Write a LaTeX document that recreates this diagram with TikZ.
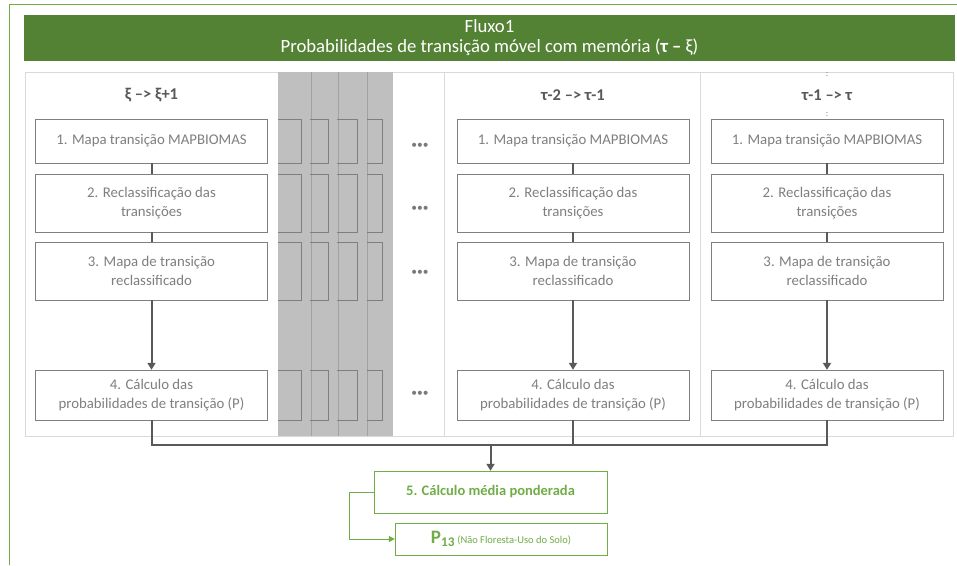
\documentclass[tikz,border=0pt]{standalone}
\usepackage{fontspec}
\setmainfont{Carlito}
\usetikzlibrary{arrows.meta}
\definecolor{verde}{HTML}{548235}
\definecolor{verdeclaro}{HTML}{70AD47}
\definecolor{cinza}{HTML}{7F7F7F}
\definecolor{cinzaescuro}{HTML}{595959}
\definecolor{faixa}{HTML}{BFBFBF}
\definecolor{borda}{HTML}{D9D9D9}

\tikzset{
	etapa/.style={draw=cinza, fill=white, text=cinza, align=center, minimum width=232pt, inner sep=0pt, font=\fontsize{14.8}{19}\selectfont},
	passo/.style={text=cinzaescuro, font=\fontsize{16.5}{19}\selectfont\bfseries},
	liga/.style={draw=cinzaescuro, line width=2pt},
	seta/.style={liga, -{Triangle[width=8pt,length=7pt]}},
	final/.style={draw=verdeclaro, fill=white, text=verdeclaro, align=center, inner sep=0pt},
}

\begin{document}
\begin{tikzpicture}[x=1pt,y=-1pt]
		\useasboundingbox (0,0) rectangle (957,565);
		% Draw outer frame and title bar
		\draw[verdeclaro] (9,565) -- (9,4) -- (957,4);
		\node[fill=verde, text=white, minimum width=931pt, minimum height=46pt, inner sep=0pt, align=center, font=\fontsize{18.7}{20}\selectfont] (titulo) at (489.5,38) {Fluxo1\\Probabilidades de transição móvel com memória (\textbf{τ –} ξ)};
		
		% Draw panel, dividers and grey band
		\draw[borda, fill=white] (25,72) rectangle (953,436);
		\draw[borda] (444,72) -- (444,436);
		\draw[borda] (700,72) -- (700,436);
		\fill[faixa] (278,72) rectangle (393,436);
		\foreach \x in {311, 338, 367}
			\draw[faixa!85!black, very thin] (\x,72) -- (\x,436);
		\foreach \ya/\yb in {119/163, 174/232, 242/300, 370/420}
			\foreach \xa/\xb in {278/301, 310/328, 337/357, 367/382}
				\draw[cinza] (\xa,\ya) -- (\xb,\ya) -- (\xb,\yb) -- (\xa,\yb);
		
		% Draw the three columns
		\foreach \c/\x/\titulo in {a/151.5/{ξ –> ξ+1}, b/573/{τ-2 –> τ-1}, c/827/{τ-1 –> τ}} {
			\node[passo] (h\c) at (\x,95) {\titulo};
			\node[etapa, minimum height=44pt] (\c1) at (\x,141) {1. Mapa transição MAPBIOMAS};
			\node[etapa, minimum height=58pt] (\c2) at (\x,203) {2. Reclassificação das\\transições};
			\node[etapa, minimum height=58pt] (\c3) at (\x,271) {3. Mapa de transição\\reclassificado};
			\node[etapa, minimum height=50pt] (\c4) at (\x,395) {4. Cálculo das\\probabilidades de transição (P)};
			\draw[liga] (\c1) -- (\c2);
			\draw[liga] (\c2) -- (\c3);
			\draw[seta] (\c3) -- (\c4);
		}
		\node[text=cinza, font=\fontsize{9}{9}\selectfont] (pa) at (827,75) {:};
		\node[text=cinza, font=\fontsize{9}{9}\selectfont] (pb) at (827,115) {:};
		\foreach \y [count=\i] in {146, 209, 273, 394}
			\node[text=cinzaescuro!80, inner sep=0pt, font=\fontsize{11.5}{12}\selectfont] (dots\i) at (420,\y) {•••};
		
		% Join the columns into the weighted mean
		\node[final, minimum width=233pt, minimum height=42pt, font=\fontsize{14.5}{18}\selectfont\bfseries] (media) at (490.5,492) {5. Cálculo média ponderada};
		\node[final, minimum width=212pt, minimum height=32pt] (p13) at (501,539) {{\fontsize{19}{20}\selectfont\textbf{P\textsubscript{13}}} {\fontsize{10.5}{12}\selectfont (Não Floresta-Uso do Solo)}};
		\coordinate (junta) at (media.north |- 0,445);
		\draw[liga] (a4) -- (a4 |- junta) -- (c4 |- junta) -- (c4);
		\draw[liga] (b4) -- (b4 |- junta);
		\draw[seta] (junta) -- (media);
		\draw[verdeclaro, line width=1pt, -{Triangle[width=6pt,length=6pt]}] (media.west) -- ++(-24,0) |- (p13.west);
	\end{tikzpicture}
\end{document}
